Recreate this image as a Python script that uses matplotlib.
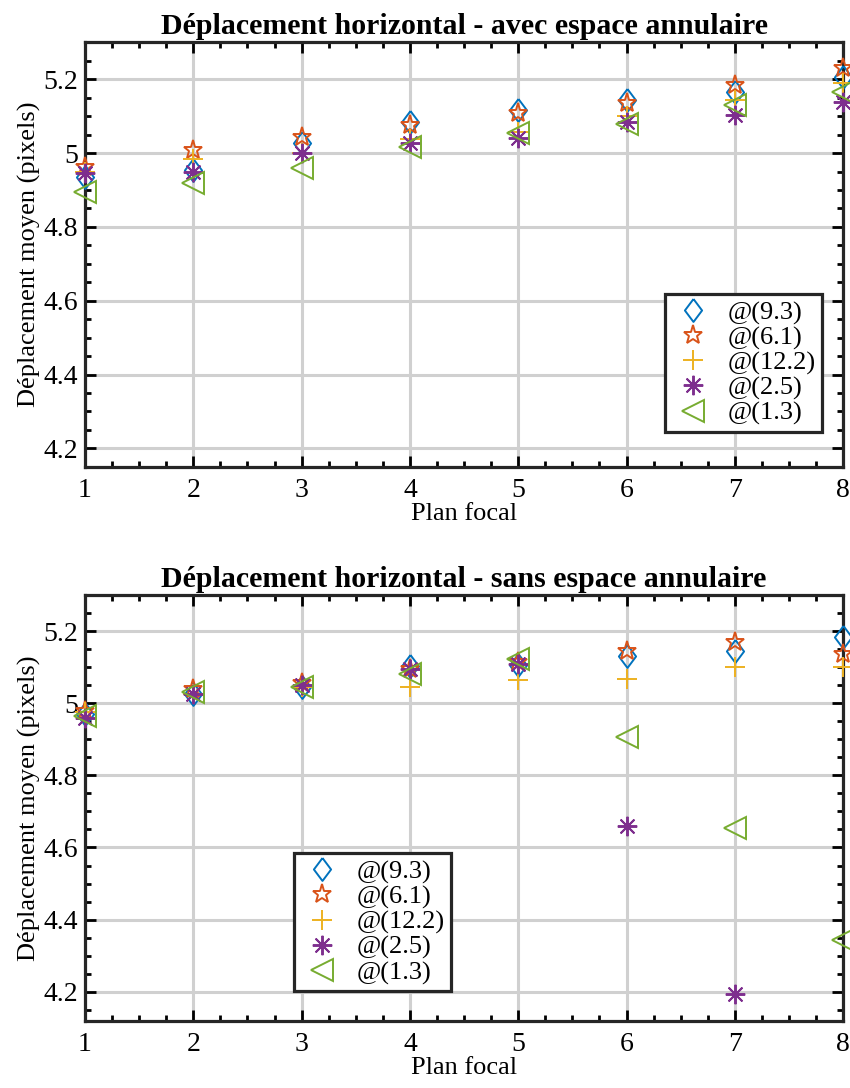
import matplotlib
matplotlib.use('Agg')
import matplotlib.pyplot as plt
from matplotlib.ticker import MultipleLocator
import numpy as np

# plans focaux
plans = [1, 2, 3, 4, 5, 6, 7, 8]
labels = ['@(9.3)', '@(6.1)', '@(12.2)', '@(2.5)', '@(1.3)']

# avec espace annulaire
avec_93 = [4.935, 4.954, 5.027, 5.084, 5.116, 5.143, 5.165, 5.205]
avec_61 = [4.962, 5.008, 5.043, 5.076, 5.110, 5.135, 5.184, 5.232]
avec_122 = [4.950, 4.984, 5.000, 5.038, 5.057, 5.100, 5.143, 5.190]
avec_25 = [4.946, 4.950, 5.000, 5.027, 5.040, 5.084, 5.103, 5.138]
avec_13 = [4.895, 4.920, 4.960, 5.016, 5.054, 5.080, 5.130, 5.165]

# sans espace annulaire
sans_93 = [4.970, 5.025, 5.046, 5.103, 5.105, 5.132, 5.146, 5.185]
sans_61 = [4.980, 5.040, 5.055, 5.095, 5.115, 5.146, 5.170, 5.137]
sans_122 = [4.975, 5.025, 5.046, 5.046, 5.065, 5.068, 5.100, 5.100]
sans_25 = [4.960, 5.025, 5.050, 5.095, 5.110, 4.660, 4.195, np.nan]  # dernier hors echelle
sans_13 = [4.965, 5.030, 5.046, 5.080, 5.124, 4.906, 4.655, 4.343]

colors = ['#0072BD', '#D95319', '#EDB120', '#7E2F8E', '#77AC30']
diamond = [(0, 1), (0.75, 0), (0, -1), (-0.75, 0), (0, 1)]
markers = [diamond, '*', '+', (8, 2, 0), '<']
sizes = [16.5, 14, 15, 14, 16]

plt.rcParams['font.family'] = ['Liberation Serif', 'DejaVu Serif']

fig = plt.figure(figsize=(8.5, 10.88), dpi=100)
ax1 = fig.add_axes([0.1, 0.571, 0.892, 0.390])
ax2 = fig.add_axes([0.1, 0.062, 0.892, 0.391])


def draw(ax, series, title, ylim, leg_loc, leg_anchor):
    for vals, lab, c, m, s in zip(series, labels, colors, markers, sizes):
        ax.plot(plans, vals, linestyle='none', marker=m, markersize=s,
                markerfacecolor='none', markeredgecolor=c, markeredgewidth=1.4,
                color=c, label=lab, clip_on=False, zorder=3)
    ax.set_xlim(1, 8)
    ax.set_ylim(*ylim)
    ax.xaxis.set_major_locator(MultipleLocator(1))
    ax.xaxis.set_minor_locator(MultipleLocator(0.25))
    ax.yaxis.set_minor_locator(MultipleLocator(0.05))
    ax.set_yticks([4.2, 4.4, 4.6, 4.8, 5.0, 5.2])
    ax.set_yticklabels(['4.2', '4.4', '4.6', '4.8', '5', '5.2'])
    ax.tick_params(which='both', direction='in', top=True, right=True,
                   width=2, labelsize=20)
    ax.tick_params(axis='x', pad=8)
    ax.tick_params(axis='y', pad=5)
    ax.tick_params(which='major', length=8)
    ax.tick_params(which='minor', length=4)
    for sp in ax.spines.values():
        sp.set_linewidth(2.3)
        sp.set_color('#262626')
    ax.grid(True, which='major', color='#d0d0d0', linewidth=2.2)
    ax.set_axisbelow(True)
    ax.set_title(title, fontsize=21.5, fontweight='bold', pad=6)
    ax.set_xlabel('Plan focal', fontsize=19, labelpad=0)
    ax.set_ylabel('Déplacement moyen (pixels)', fontsize=19, labelpad=2)
    leg = ax.legend(loc=leg_loc, bbox_to_anchor=leg_anchor, fontsize=19,
                    fancybox=False, framealpha=1, edgecolor='#262626',
                    handletextpad=0.5, borderpad=0.25, labelspacing=0.05,
                    handlelength=1.6, borderaxespad=0)
    leg.get_frame().set_linewidth(2.3)


draw(ax1, [avec_93, avec_61, avec_122, avec_25, avec_13],
     'Déplacement horizontal - avec espace annulaire', (4.15, 5.3),
     'lower right', (0.972, 0.082))
draw(ax2, [sans_93, sans_61, sans_122, sans_25, sans_13],
     'Déplacement horizontal - sans espace annulaire', (4.12, 5.3),
     'lower left', (0.276, 0.069))

fig.savefig('out.png', dpi=100)
